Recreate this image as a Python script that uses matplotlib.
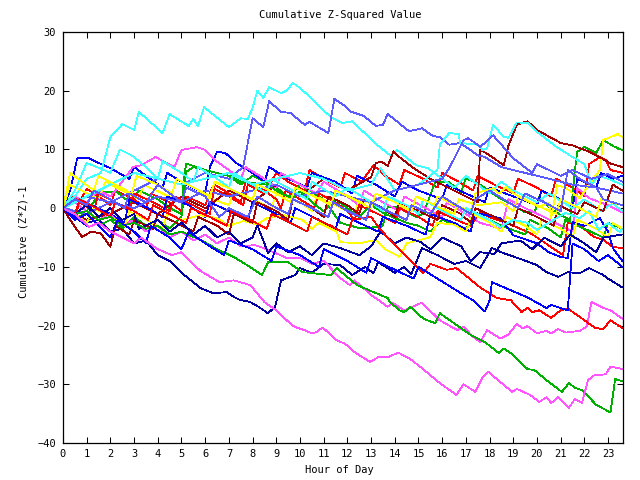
import matplotlib
matplotlib.use("Agg")
import matplotlib.pyplot as plt

# hour / value waypoints, one pair per trace
cyan_a_h = [0, 0.5, 1.0, 1.6, 2.0, 2.5, 3.0, 3.2, 4.2, 4.5, 5.3, 5.5, 5.7, 5.95, 7.0, 7.5, 7.8, 8.0, 8.2, 8.45, 8.7, 9.2, 9.45, 9.7, 10.0, 10.55, 11.3, 11.8, 12.2, 13.25, 13.8, 14.1, 14.9, 15.4, 16.0, 16.5, 17.0, 17.5, 18.0, 18.5, 19.0, 20.0, 20.5, 21.5, 22.0, 22.7, 23.2, 23.6]
cyan_a_v = [0, 2, 5, 6, 12.1, 14.3, 13.3, 16.4, 12.8, 16.0, 14.0, 15.2, 14.0, 17.2, 13.8, 15.3, 15.2, 17.1, 20.0, 18.8, 20.6, 19.6, 20.1, 21.3, 20.5, 18.4, 15.5, 14.5, 14.8, 10.8, 9.0, 9.9, 7.3, 6.8, 5.0, 3.5, 5.5, 4.0, 2.5, 4.5, 3.0, 1.0, 2.5, 0.0, 1.5, -0.5, 0.8, -0.5]

cyan_b_h = [0, 1, 2, 3, 4, 5, 6, 7, 8, 9, 10, 11, 12, 13, 13.4, 14, 15, 15.8, 15.9, 16.3, 16.7, 16.75, 17.5, 17.7, 17.9, 18.15, 18.6, 18.8, 19.15, 19.6, 20.0, 20.8, 21.5, 22.0, 22.3, 22.6, 23.0, 23.6]
cyan_b_v = [0, 2, 4, 6, 5, 4, 5, 6, 4, 5, 6, 5, 3, 4, 6.8, 3, 4, 6.5, 10.8, 12.8, 12.6, 11.1, 10.8, 9.9, 10.2, 14.2, 12.1, 12.0, 14.6, 14.5, 13.0, 10.5, 8.7, 7.5, 4.0, 5.5, 5.0, 4.0]

cyan_c_h = [0, 0.5, 1.0, 1.55, 2.0, 2.4, 2.9, 3.5, 4.0, 4.2, 5.0, 5.5, 5.7, 6.5, 7.0, 7.2, 8.0, 8.6, 8.8, 9.7, 10.3, 10.5, 11.5, 12.0, 13.0, 13.5, 13.7, 14.5, 15.0, 15.2, 16.0, 16.8, 17.0, 18.0, 18.45, 19.0, 19.6, 20.0, 20.5, 21.2, 21.8, 22.2, 22.6, 23.0, 23.5, 23.6]
cyan_c_v = [0, 3, 7.7, 6.8, 6, 10, 9, 7, 5, 8, 6, 4.5, 7, 5, 3.5, 6, 4, 2.5, 5, 3, 1.5, 4.5, 2, 3.5, 1, -0.5, 2, 0.5, -1, 1.5, -0.5, -2, 0, -2, -3.2, -2, -2.5, -3.7, -2.5, -0.8, -1.7, -0.5, -3.7, -2.5, -4.1, -3.5]

mblue_b_h = [0, 1, 2, 3, 4, 5, 6, 7, 7.6, 8.0, 8.45, 8.7, 9.2, 9.6, 10.2, 10.4, 11.2, 11.45, 11.9, 12.1, 12.7, 13.2, 13.5, 13.7, 13.9, 14.6, 15.15, 15.6, 15.9, 16.3, 16.75, 17.2, 17.5, 17.8, 18.5, 19.5, 20.5, 21.5, 22.5, 23.6]
mblue_b_v = [0, 2, 1, 3, 5, 4, 6, 5, 7, 15.3, 13.8, 18.2, 16.4, 16.2, 14.2, 14.7, 12.8, 18.6, 17.4, 16.5, 15.7, 14.0, 14.2, 16.0, 15.4, 13.1, 13.6, 12.3, 12.1, 10.8, 11.1, 9.9, 9.0, 8.7, 7.0, 6.0, 5.0, 4.0, 3.5, 2.5]

mblue_c_h = [0, 1, 2, 3, 4, 5, 6, 7, 8, 9, 10, 11, 12, 13, 14, 15, 16, 16.3, 16.9, 17.1, 17.5, 17.6, 18.15, 19.0, 19.8, 20.0, 21.0, 21.5, 22.3, 23.0, 23.6]
mblue_c_v = [0, -1, 1, 0, 2, 1, 3, 2, 3, 4, 2, 3, 2, 1, 3, 4, 5, 6.8, 11.6, 11.9, 10.8, 10.4, 12.4, 8.5, 6.0, 7.5, 5.5, 6.5, 5.0, 5.8, 4.5]

mblue_d_h = [0, 0.5, 1.0, 1.3, 2.0, 2.6, 2.8, 3.5, 4.0, 4.5, 5.0, 5.2, 6.0, 6.6, 7.0, 7.8, 8.2, 8.8, 9.5, 9.7, 10.5, 11.2, 11.4, 12.0, 12.8, 13.0, 13.7, 14.5, 14.7, 15.5, 16.0, 16.6, 17.2, 17.4, 18.0, 18.6, 19.2, 19.5, 20.3, 21.0, 21.3, 21.8, 22.5, 22.8, 23.6]
mblue_d_v = [0, 1.5, 0.5, 3, 1.5, 0, 2.5, 1, 4, 2.5, 1, 3.5, 2, -1.5, 0, -1.5, 2, 0.5, -1, 1.5, 0, -1.5, 1, -0.5, -2, 1, -0.5, -2, 0.5, -1, 2, 0.5, -1, 1.5, 3, 1.5, 0, 2.5, 1, -0.5, 6.5, 5, 3.5, 1.5, 0.5]

blue_a_h = [0, 0.3, 0.6, 1.1, 1.4, 2.0, 2.8, 3.0, 3.5, 4.2, 4.4, 5.2, 6.0, 6.2, 6.5, 6.85, 7.3, 8.0, 8.5, 8.7, 9.5, 10.3, 10.5, 11.5, 12.2, 12.4, 13.2, 14.0, 14.3, 15.0, 16.0, 16.2, 17.0, 17.8, 18.0, 19.0, 20.0, 20.2, 21.0, 21.5, 21.7, 22.5, 22.7, 23.2, 23.6]
blue_a_v = [0, 3, 8.5, 8.5, 7.9, 6.8, 5, 7, 5.5, 3.5, 6, 4, 2.5, 7, 9.6, 9.4, 7.7, 6, 4.5, 7, 5, 3.5, 6, 4.5, 2.5, 5.5, 4, 2, 4.5, 3, 1.5, 4, 2.5, 1, 3.5, 2, 0.5, 3, 1.5, 0, 5, 3.5, 6, 5, 5.5]

blue_b_h = [0, 0.5, 1.0, 1.2, 2.0, 2.6, 2.8, 3.6, 4.2, 4.4, 5.3, 6.0, 6.2, 7.0, 7.8, 8.0, 9.0, 9.6, 9.8, 10.8, 11.5, 11.7, 12.5, 13.3, 13.5, 14.5, 15.3, 15.5, 16.5, 17.2, 17.4, 18.45, 19.0, 20.0, 20.5, 21.0, 21.3, 21.5, 22.0, 22.65, 23.0, 23.2, 23.6]
blue_b_v = [0, -1.5, -3, 0.5, -1, -2.5, 1.5, 0, -1.5, 2, 0.5, -1.5, 1, -0.5, -2, 1, -1, -2.5, 0, -2, -3.5, -1, -2.5, -4, -1.5, -3, -4.5, -1, -2.5, -4, -0.8, -1.7, -4.6, -6, -7.5, -8.3, -8.5, -2.4, -3, -1.7, -4, -6.8, -9]

blue_d_h = [0, 0.5, 1.0, 1.5, 2.0, 2.3, 3.0, 3.5, 3.7, 4.5, 5.0, 5.3, 6.0, 6.8, 7.0, 8.0, 8.8, 9.0, 10.0, 10.8, 11.0, 12.0, 12.8, 13.0, 14.0, 14.8, 15.0, 16.0, 16.8, 17.3, 17.8, 18.0, 18.1, 18.9, 19.6, 20.4, 20.6, 21.3, 21.5, 22.0, 22.6, 23.0, 23.6]
blue_d_v = [0, -2, -1, -3, -5, -2, -4, -6, -3, -5, -7, -4, -6, -8, -5.5, -7, -9, -6.5, -8, -10, -7, -9, -11, -8.5, -10.5, -12, -10, -12.5, -14.5, -15.7, -17.6, -15.7, -12.6, -14, -15.2, -17, -16.5, -17.4, -6, -7, -9, -8, -10]

navy_a_h = [0, 0.5, 1.0, 1.5, 2.0, 2.5, 3.0, 3.5, 4.0, 4.5, 5.0, 5.8, 6.35, 6.9, 7.2, 7.45, 7.9, 8.25, 8.65, 8.95, 9.2, 9.4, 9.8, 10.0, 10.5, 11.0, 11.7, 12.2, 12.75, 13.1, 13.3, 14.0, 14.4, 14.7, 15.15, 15.8, 16.5, 17.0, 17.6, 18.1, 18.55, 19.4, 20.0, 20.4, 20.9, 21.3, 21.8, 22.2, 22.8, 23.0, 23.6]
navy_a_v = [0, -1, -2.5, -2, -4, -3.5, -6, -5.5, -8, -9, -11, -13.6, -14.5, -14.3, -15.1, -15.6, -16, -16.8, -17.9, -16.8, -12.3, -12, -11.4, -10.2, -11, -9.5, -9.7, -11.4, -10, -11.1, -9.2, -11, -10, -11.2, -6.8, -8, -9.5, -9, -10.2, -6.8, -7.6, -8.8, -9.7, -10.9, -11.7, -10.9, -11.1, -10.2, -11.4, -12, -13.5]

navy_b_h = [0, 0.5, 1.0, 1.5, 2.0, 2.5, 3.0, 3.2, 4.0, 4.5, 5.0, 5.5, 6.0, 6.5, 7.0, 7.5, 8.0, 8.2, 8.65, 9.0, 9.5, 10.0, 10.5, 11.0, 11.7, 12.5, 13.0, 13.4, 14.0, 14.5, 15.1, 15.5, 16.0, 16.8, 17.2, 17.6, 18.2, 18.5, 19.3, 19.8, 20.3, 21.0, 21.4, 22.0, 22.5, 22.8, 23.6]
navy_b_v = [0, -1, 0.5, -1.5, 0, -2, -1, -3.5, -2, -4, -2.5, -4.5, -3, -5, -4, -6, -5, -2.9, -7.6, -6, -7.5, -6.5, -8, -6, -6.8, -8, -6.5, -4, -6, -5, -5.8, -7, -5, -6.5, -9, -7.5, -7.8, -6, -5.5, -7, -5, -6.5, -4.5, -6, -7.5, -5, -4.5]

magenta_a_h = [0, 0.5, 1.1, 1.5, 2.0, 2.5, 3.0, 3.3, 4.0, 4.6, 5.0, 5.5, 5.8, 6.6, 7.2, 7.9, 8.5, 9.0, 9.65, 9.9, 10.2, 10.5, 10.7, 10.95, 11.55, 11.9, 12.3, 12.95, 13.3, 13.7, 14.15, 14.65, 15.1, 15.9, 16.6, 16.9, 17.4, 17.7, 17.95, 18.45, 18.95, 19.15, 19.7, 20.1, 20.4, 20.6, 20.9, 21.35, 21.6, 21.9, 22.15, 22.4, 22.9, 23.1, 23.6]
magenta_a_v = [0, -1, -3.2, -2.5, -4, -5, -6, -5, -7, -8, -7.5, -9.5, -10.7, -12.6, -12.3, -13.1, -16, -17.4, -19.9, -20.4, -20.8, -21.3, -21.1, -20.3, -22.5, -23.1, -24.5, -26.2, -25.4, -25.4, -24.6, -25.7, -27.1, -29.8, -31.8, -30, -31.3, -28.8, -27.9, -29.6, -31.3, -30.8, -31.8, -33, -32.2, -33.2, -32.2, -34, -32.5, -33.2, -29.3, -28.5, -28.3, -27, -27.4]

magenta_b_h = [0, 0.5, 1.0, 1.5, 2.0, 2.5, 3.0, 3.5, 4.0, 4.5, 5.0, 5.5, 6.0, 6.5, 7.0, 7.5, 8.1, 8.6, 9.45, 10.0, 10.5, 11.0, 11.7, 12.1, 12.3, 13.1, 13.3, 13.7, 13.9, 14.4, 15.15, 15.9, 16.65, 16.9, 17.3, 17.6, 17.9, 18.45, 18.8, 19.15, 19.4, 19.6, 20.0, 20.4, 20.6, 20.9, 21.2, 21.8, 22.1, 22.3, 22.8, 23.1, 23.6]
magenta_b_v = [0, 1, -0.5, -2, -1, -3, -2, -4, -3, -5, -4, -5.5, -4.5, -6, -5, -6.5, -6.3, -7, -8.5, -8.5, -9.5, -9, -11.9, -13.1, -12.3, -15.1, -15.6, -16.8, -16.1, -17.4, -16.1, -19.1, -20.8, -20.2, -21.9, -22.8, -20.8, -22.2, -21.5, -19.7, -20.5, -20.1, -21.3, -20.9, -21.3, -20.6, -21.2, -20.9, -20.2, -16, -17, -17.4, -18.8]

magenta_c_h = [0, 0.5, 1.0, 1.5, 2.0, 2.5, 2.95, 3.3, 3.9, 4.7, 5.0, 5.65, 6.0, 6.4, 7.0, 7.5, 7.7, 8.5, 9.0, 9.2, 10.0, 10.7, 11.0, 12.0, 12.5, 12.7, 13.5, 14.2, 14.4, 15.3, 16.0, 16.2, 17.0, 17.6, 18.5, 18.8, 19.5, 20.3, 21.0, 21.5, 21.7, 22.2, 23.0, 23.6]
magenta_c_v = [0, 2, 1, 3, 2, 4.5, 7, 7.3, 8.7, 7, 9.9, 10.4, 9.9, 8.2, 6.5, 5, 7, 5, 3.5, 6, 4, 2.5, 4.5, 2, 0.5, 3, 1, -0.5, 2, 0, -1.5, 1, -1, -2.5, -3.5, 1.5, 0, -1.5, -3, -4, 3.4, 1.7, 0.5, -0.7]

green_top_h = [0, 0.5, 1.0, 1.6, 2.3, 2.8, 3.2, 4.0, 4.5, 5.0, 5.1, 5.2, 6.0, 7.0, 7.5, 8.0, 9.0, 9.5, 10.0, 11.0, 11.7, 12.5, 13.4, 13.5, 13.7, 14.1, 14.9, 15.2, 15.7, 16.3, 16.8, 17.0, 17.6, 18.35, 19.0, 19.5, 19.9, 20.1, 20.5, 21.0, 21.4, 21.6, 21.7, 22.0, 22.5, 22.8, 23.2, 23.6]
green_top_v = [0, 1, -0.5, 2.7, 2.7, 1, 3, 1.5, 0, -1, 5, 7.6, 6.5, 5.5, 4, 5.5, 3.5, 2, 4, 1.5, -2.5, -3.4, -3.2, -2.9, 0.2, 0.2, -1.5, -1, 4.4, 4.4, 2.7, 5.1, 4, 1.9, 0.5, -0.7, -0.7, 1.9, 0.2, -1.2, -2, 6.5, 9.6, 10.4, 9.4, 11.6, 10.6, 9.9]

green_mid_h = [0, 0.5, 1.0, 1.5, 2.0, 2.5, 3.0, 3.5, 4.0, 4.5, 5.0, 5.2, 5.5, 6.3, 7.0, 7.5, 8.6, 9.2, 9.7, 10.0, 10.5, 11.0, 11.5, 12.0, 12.5, 13.0, 13.6, 14.5, 15.0, 15.5, 16.0, 17.0, 17.5, 18.5, 19.5, 19.7, 20.5, 21.0, 21.2, 22.0, 22.8, 23.0, 23.6]
green_mid_v = [0, -1.5, -1, -3, -2, -3.5, -1.5, -3, -2, -3.5, -1.5, 6.2, 7, 6.2, 5.5, 4.5, 4, 2.5, 1.7, 3, 1, -0.5, 1.5, 0, -1.5, 0.5, -1, -2.5, -3, -4, -2, -3.5, -1, -3, -4.5, -2, -3.5, -5, -2, -3.5, -5, -2.5, -3.5]

green_bottom_h = [0, 0.5, 1.0, 1.5, 2.0, 2.5, 3.0, 3.5, 4.0, 4.5, 5.0, 5.8, 6.5, 7.2, 7.8, 8.4, 8.65, 9.5, 10.1, 11.3, 11.55, 11.9, 12.4, 13.1, 13.7, 13.8, 14.2, 14.4, 14.65, 15.2, 15.7, 15.9, 16.5, 17.2, 17.8, 18.4, 18.6, 19.0, 19.6, 19.9, 20.4, 21.05, 21.35, 21.6, 21.9, 22.5, 23.1, 23.3, 23.6]
green_bottom_v = [0, -1, -0.5, -2, -1.5, -3, -2.5, -3.5, -3, -4.5, -4, -5.4, -7, -8.3, -9.8, -11.4, -9.2, -9.2, -10.9, -11.4, -10.2, -11.4, -13.1, -14.3, -15.3, -16, -17.4, -17.7, -16.8, -18.8, -19.6, -17.9, -19.6, -21.6, -22.8, -24.7, -23.9, -25, -27.4, -27.6, -29.3, -31.3, -29.8, -30.6, -31, -33.5, -34.8, -29.1, -29.5]

yellow_a_h = [0, 0.3, 0.8, 1.5, 1.8, 2.5, 3.2, 3.4, 4.2, 5.0, 5.2, 6.0, 7.0, 7.2, 8.0, 8.8, 9.0, 10.0, 10.5, 10.7, 11.5, 12.3, 12.5, 13.5, 14.0, 14.2, 15.0, 15.5, 15.8, 16.5, 17.2, 17.4, 18.15, 18.4, 18.7, 19.0, 19.7, 20.1, 20.5, 20.6, 20.85, 21.2, 21.8, 22.2, 22.65, 22.8, 23.4, 23.6]
yellow_a_v = [0, 4, 3, 1.5, 4.5, 3, 1.5, 4, 2.5, 1, 3.5, 2, 0.5, 3, 1.5, 0, 2.5, 1, -0.5, 2, 0.5, -1, 1.5, 0, -1.5, 1, -0.5, -1.5, 2, 0.5, -0.5, 2.5, 3.4, 2.5, 3.6, 2.5, 1, 0.2, 0.9, -1.7, 3.9, 3.5, 1.7, 4, 6.5, 11.6, 12.6, 12.1]

yellow_b_h = [0, 0.5, 1.0, 1.3, 2.0, 2.6, 2.8, 3.5, 4.2, 4.4, 5.0, 5.8, 6.5, 7.0, 7.6, 8.2, 8.6, 9.3, 10.1, 10.5, 10.8, 11.55, 11.7, 12.5, 13.2, 13.6, 14.2, 14.5, 15.1, 15.5, 15.8, 16.5, 17.0, 17.3, 18.0, 18.5, 18.7, 19.5, 20.0, 20.2, 21.0, 21.5, 21.7, 22.5, 23.0, 23.2, 23.6]
yellow_b_v = [0, -1, -2.5, 0, -1.5, -3, -0.5, -2, -3.5, -1, -2, -1.2, -1.7, -3, -2.2, -2.8, -1.7, -1.2, -2, -3.5, -2.5, -4, -5.8, -6, -5.4, -7, -8.3, -6, -5.4, -4.9, -2.5, -2.8, -4, -1, -2.5, -4, -1.5, -3, -4.5, -2, -3.5, -5, -2, -3.5, -5, -2.5, -3.5]

yellow_c_h = [0, 0.3, 0.8, 1.3, 1.5, 2.2, 2.9, 3.1, 4.0, 4.6, 4.8, 5.5, 6.2, 6.4, 7.2, 8.0, 8.2, 9.0, 9.6, 9.8, 10.6, 11.3, 11.5, 12.3, 13.0, 13.2, 14.0, 14.7, 14.9, 15.7, 16.5, 16.7, 17.5, 18.5, 19.0, 19.2, 20.0, 20.8, 21.0, 21.8, 22.5, 22.7, 23.6]
yellow_c_v = [0, 6, 4.5, 3, 5.5, 4, 2.5, 5.5, 4, 2.5, 5, 3.5, 2, 4.5, 3, 1.5, 4, 2.5, 1, 3.5, 2, 0.5, 3, 1.5, 0, 2.5, 1, -0.5, 2, 0.5, -1, 1.5, 0.5, 1, -0.5, 2, 0.5, -1, 1.5, 0, -1.5, 1.5, 0.5]

red_a_h = [0, 0.4, 0.7, 1.0, 1.5, 2.0, 2.2, 3.0, 3.5, 3.7, 4.5, 5.0, 5.2, 6.0, 6.3, 7.0, 7.6, 7.8, 8.5, 9.0, 9.5, 10.2, 10.4, 11.0, 11.7, 11.9, 12.6, 13.1, 13.6, 14.2, 14.4, 15.2, 15.8, 16.0, 16.7, 17.3, 17.5, 18.2, 19.0, 19.2, 20.0, 20.6, 20.8, 21.5, 22.0, 22.2, 22.65, 22.9, 23.1, 23.6]
red_a_v = [0, 2, 1, 3.3, 2, 0.5, 3, 1.5, 0, 2.5, 1, -0.5, 2, 0.5, 3.5, 2, 0.5, 4, 2.5, 6, 4.5, 3, 6.5, 5, 3.5, 6, 4.5, 7.3, 5.5, 4, 6.5, 5, 3.5, 6, 4.5, 3, 5.5, 4, 2.5, 5, 3.5, 2, 5, 3.5, 2, 7.5, 8.7, 8.2, 6.5, 6]

red_b_h = [0, 0.5, 0.7, 1.3, 1.5, 2.2, 2.8, 3.0, 3.8, 4.5, 4.7, 5.5, 6.2, 6.4, 7.0, 7.5, 7.7, 8.5, 9.0, 9.2, 9.4, 10.0, 10.6, 10.8, 11.5, 12.0, 12.3, 12.5, 13.3, 14.0, 14.2, 15.0, 15.6, 15.8, 16.6, 17.2, 17.6, 18.1, 18.7, 19.7, 20.3, 21.1, 21.3, 21.8, 22.4, 22.8, 23.2, 23.6]
red_b_v = [0, -1.5, 1, -0.5, 2.5, 1, -0.5, 2.5, 1, -0.5, 2, 0.5, -1, 4, 2.5, 1, 4.5, 3, 1.5, 0, 3, 1.5, 0, 2.5, 1, -0.5, -2, 0.5, -1, -2.5, 0, -1.5, -3, -0.5, -2, -3, -0.7, -1.7, -2.5, -4.2, -5.8, -8, -2.4, -2.9, -4.9, -5.4, -6.6, -6.8]

red_c_h = [0, 0.5, 0.7, 1.4, 2.0, 2.2, 3.0, 3.6, 3.8, 4.5, 5.2, 5.4, 6.2, 6.9, 7.1, 7.9, 8.6, 8.8, 9.6, 10.3, 10.5, 11.3, 12.0, 12.2, 13.0, 13.4, 14.3, 15.2, 15.5, 16.2, 16.6, 17.0, 17.6, 18.3, 18.9, 19.35, 19.6, 19.8, 20.1, 20.6, 21.0, 21.3, 21.8, 22.45, 22.8, 23.1, 23.6]
red_c_v = [0, -1, 1.5, 0, -1.5, 1, -0.5, -2, 0.5, -1, -2.5, 0, -1.5, -3, -0.5, -2, -3.5, -1, -2.5, -4, -1.5, -3, -4.5, -2, -1.5, -3.7, -7.5, -11.1, -9.5, -10.5, -10.2, -11.5, -13.5, -15.3, -15.7, -17.7, -17, -17.7, -17.4, -18.7, -17.4, -17.1, -18.5, -20.4, -20.6, -19.1, -20.4]

dkred_a_h = [0, 1, 2, 3, 4, 5, 6, 7, 8, 9, 10, 11, 12, 13.0, 13.2, 13.45, 13.7, 13.95, 14.1, 14.8, 15.5, 16.0, 16.5, 17.0, 17.5, 17.6, 18.0, 18.6, 18.8, 19.15, 19.6, 20.0, 21.0, 21.5, 22.2, 22.65, 23.1, 23.6]
dkred_a_v = [0, -2, -1, 1, -1, 2, 0, 3, 1, 4, 2, 5, 3, 5.3, 7.7, 7.9, 7.2, 9.7, 9.0, 6.8, 5.0, 4.0, 3.0, 2.0, 1.0, 10.0, 9.0, 7.3, 10.7, 14.2, 14.8, 13.3, 11.1, 10.7, 9.6, 8.7, 7.6, 7.0]

dkred_b_h = [0, 0.3, 0.8, 1.2, 1.6, 2.0, 2.2, 2.8, 3.0, 3.8, 4.0, 4.8, 5.5, 5.7, 6.5, 7.0, 7.2, 8.0, 8.2, 9.0, 9.5, 9.7, 10.5, 11.0, 11.2, 12.0, 12.5, 12.7, 13.5, 14.0, 14.2, 15.0, 15.8, 16.0, 16.8, 17.2, 17.4, 18.2, 19.0, 19.2, 20.0, 20.7, 20.9, 21.7, 22.0, 22.8, 23.2, 23.6]
dkred_b_v = [0, -2, -4.9, -4, -4.3, -6.6, -3, -4.5, -2, -3.5, -1, -2.5, -4, -1.5, -3, -4.5, -1, -2.5, 1, -0.5, -2, 1.5, 0, -1.5, 2, 0.5, -1, 1.5, 0, -1.5, 1, -0.5, -2, 0.5, -1, -2.5, 0, -1.5, -3, 0, -1.5, -3, 0.5, -1, 1, -0.5, 4, 3]

x_ticks = list(range(24))
y_ticks = [-40, -30, -20, -10, 0, 10, 20, 30]

RED, DKRED, GREEN = '#ff0000', '#a00000', '#00b000'
BLUE, MBLUE, NAVY = '#0000ff', '#5a5aff', '#0000a0'
MAGENTA, CYAN, YELLOW = '#ff55ff', '#40ffff', '#ffff00'

traces = [
    (red_a_h, red_a_v, RED),
    (green_top_h, green_top_v, GREEN),
    (blue_a_h, blue_a_v, BLUE),
    (magenta_c_h, magenta_c_v, MAGENTA),
    (cyan_a_h, cyan_a_v, CYAN),
    (yellow_a_h, yellow_a_v, YELLOW),
    (dkred_a_h, dkred_a_v, DKRED),
    (mblue_b_h, mblue_b_v, MBLUE),
    (navy_a_h, navy_a_v, NAVY),
    (red_b_h, red_b_v, RED),
    (green_mid_h, green_mid_v, GREEN),
    (blue_b_h, blue_b_v, BLUE),
    (magenta_b_h, magenta_b_v, MAGENTA),
    (cyan_b_h, cyan_b_v, CYAN),
    (yellow_b_h, yellow_b_v, YELLOW),
    (dkred_b_h, dkred_b_v, DKRED),
    (mblue_c_h, mblue_c_v, MBLUE),
    (navy_b_h, navy_b_v, NAVY),
    (red_c_h, red_c_v, RED),
    (green_bottom_h, green_bottom_v, GREEN),
    (blue_d_h, blue_d_v, BLUE),
    (magenta_a_h, magenta_a_v, MAGENTA),
    (cyan_c_h, cyan_c_v, CYAN),
    (yellow_c_h, yellow_c_v, YELLOW),
    (mblue_d_h, mblue_d_v, MBLUE),
]

plt.rcParams['font.family'] = ['DejaVu Sans Mono']
plt.rcParams['font.size'] = 7.5

fig = plt.figure(figsize=(6.4, 4.8), dpi=100)
ax = fig.add_axes([63 / 640, 37 / 480, 560 / 640, 411 / 480])

for h, v, c in traces:
    ax.plot(h, v, color=c, lw=0.55, antialiased=False)

ax.set_xlim(0, 23.63)
ax.set_ylim(-40, 30)
ax.set_xticks(x_ticks)
ax.set_yticks(y_ticks)
ax.tick_params(direction='in', length=4.5, width=0.75, top=True, right=True,
               labelsize=7.5, color='black')
ax.tick_params(axis='y', pad=5)
ax.tick_params(axis='x', pad=4)
for s in ax.spines.values():
    s.set_linewidth(0.9)

fig.text(0.531, 0.968, 'Cumulative Z-Squared Value', ha='center', va='center')
fig.text(0.531, 0.021, 'Hour of Day', ha='center', va='center')
fig.text(0.036, 0.496, 'Cumulative (Z*Z)-1', ha='center', va='center', rotation=90)

fig.savefig('out.png', dpi=100)
